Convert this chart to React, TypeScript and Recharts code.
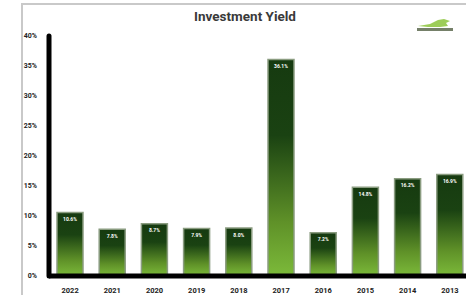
import React from "react";
import { BarChart, Bar, XAxis, YAxis, LabelList } from "recharts";

const years = ["2022", "2021", "2020", "2019", "2018", "2017", "2016", "2015", "2014", "2013"];
const yields = [10.6, 7.8, 8.7, 7.9, 8.0, 36.1, 7.2, 14.8, 16.2, 16.9];
const yTicks = [0, 5, 10, 15, 20, 25, 30, 35, 40];

const data = years.map((year, i) => ({ year, value: yields[i] }));

const font = "Roboto, 'DejaVu Sans Condensed', sans-serif";

const App: React.FC = () => {
    return (
        <div style={{ position: "fixed", left: 0, top: 0, width: 466, height: 295, overflow: "hidden", background: "#fff" }}>
            <div style={{ position: "absolute", left: 21, top: 3, width: 600, height: 400, borderLeft: "2px solid #c9c9c9", borderTop: "2px solid #c9c9c9" }} />
            <div style={{ position: "absolute", left: 245, top: 8, transform: "translateX(-50%)", fontFamily: font, fontWeight: 700, fontSize: 13.5, color: "#3a3a3a", whiteSpace: "nowrap" }}>
                Investment Yield
            </div>
            <svg style={{ position: "absolute", left: 414, top: 17 }} width={42} height={16}>
                <path d="M4 9 L16 7 L24 3 L30 2 L36 4 L32 6 L34 9 L26 10 L14 10 Z" fill="#8cc43c" opacity={0.85} />
                <rect x={3} y={11} width={36} height={3} fill="#3b4a2a" opacity={0.7} />
            </svg>
            <div style={{ position: "absolute", left: 0, top: 0 }}>
                <BarChart width={480} height={295} data={data} margin={{ top: 36, right: 9, bottom: 0, left: 0 }}>
                    <defs>
                        <linearGradient id="barGrad" x1="0" y1="0" x2="0" y2="1">
                            <stop offset="0%" stopColor="#163a10" />
                            <stop offset="35%" stopColor="#1a4212" />
                            <stop offset="75%" stopColor="#5f9128" />
                            <stop offset="100%" stopColor="#7cba3a" />
                        </linearGradient>
                    </defs>
                    <XAxis
                        dataKey="year"
                        height={19}
                        tickLine={false}
                        axisLine={{ stroke: "#000", strokeWidth: 5 }}
                        tick={{ fill: "#222", fontSize: 7.5, fontWeight: 700, fontFamily: font }}
                        tickMargin={6}
                        interval={0}
                    />
                    <YAxis
                        width={49}
                        domain={[0, 40]}
                        ticks={yTicks}
                        tickFormatter={(v: number) => `${v}%`}
                        tickLine={false}
                        axisLine={{ stroke: "#000", strokeWidth: 5, strokeLinecap: "round" }}
                        tick={{ fill: "#222", fontSize: 7, fontWeight: 700, fontFamily: font }}
                        tickMargin={6}
                    />
                    <Bar dataKey="value" barSize={26} fill="url(#barGrad)" stroke="#8a9c80" strokeWidth={1.5} isAnimationActive={false}>
                        <LabelList
                            dataKey="value"
                            position="insideTop"
                            offset={5}
                            formatter={(v: number) => `${v.toFixed(1)}%`}
                            fill="#fff"
                            fontSize={5}
                            fontWeight={700}
                            fontFamily={font}
                        />
                    </Bar>
                </BarChart>
            </div>
        </div>
    );
};

export default App;
